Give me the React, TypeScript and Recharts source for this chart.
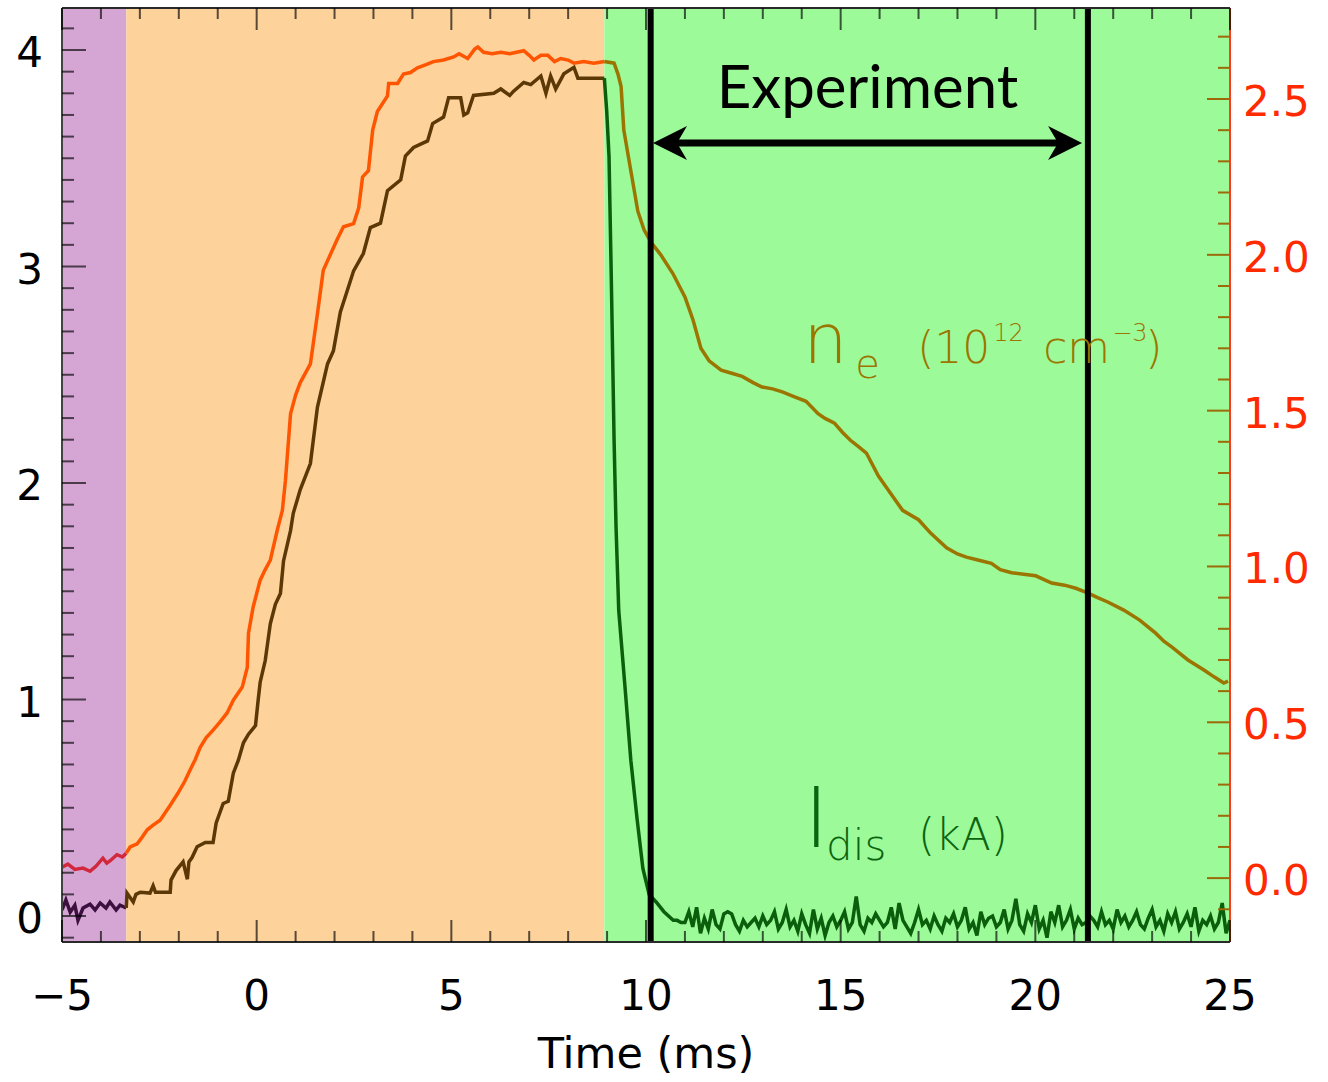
import { LineChart, Line, XAxis, YAxis, ReferenceArea, ReferenceLine, ReferenceDot } from "recharts"

type Pt = [number, number]

// electron density, 1e12 cm^-3 (right axis)
const neSamples: Pt[] = [
  [-5.0, 0.035], [-4.85, 0.045], [-4.67, 0.028], [-4.46, 0.032], [-4.28, 0.022], [-4.13, 0.038],
  [-3.95, 0.064], [-3.85, 0.048], [-3.77, 0.055], [-3.59, 0.075], [-3.45, 0.068], [-3.35, 0.08],
  [-3.25, 0.1], [-3.07, 0.11], [-2.95, 0.13], [-2.81, 0.155], [-2.66, 0.17], [-2.48, 0.186],
  [-2.35, 0.21], [-2.22, 0.234], [-2.02, 0.273], [-1.85, 0.31], [-1.71, 0.347], [-1.58, 0.38],
  [-1.45, 0.42], [-1.3, 0.45], [-1.12, 0.475], [-0.95, 0.5], [-0.76, 0.53], [-0.6, 0.571],
  [-0.37, 0.613], [-0.24, 0.677], [-0.21, 0.786], [-0.09, 0.87], [0.09, 0.956], [0.22, 0.99],
  [0.35, 1.02], [0.53, 1.117], [0.66, 1.18], [0.74, 1.277], [0.87, 1.49], [1.0, 1.55],
  [1.12, 1.59], [1.38, 1.65], [1.56, 1.81], [1.71, 1.95], [1.89, 2.0], [2.07, 2.05],
  [2.23, 2.09], [2.49, 2.1], [2.62, 2.15], [2.72, 2.25], [2.87, 2.27], [2.98, 2.4],
  [3.1, 2.46], [3.36, 2.51], [3.39, 2.55], [3.62, 2.55], [3.77, 2.58], [3.95, 2.585],
  [4.13, 2.6], [4.35, 2.61], [4.54, 2.62], [4.8, 2.625], [5.06, 2.635], [5.2, 2.645],
  [5.42, 2.63], [5.6, 2.66], [5.68, 2.667], [5.83, 2.65], [6.05, 2.645], [6.27, 2.65],
  [6.5, 2.645], [6.86, 2.655], [7.0, 2.64], [7.12, 2.625], [7.3, 2.64], [7.48, 2.64],
  [7.65, 2.62], [7.81, 2.63], [8.0, 2.625], [8.15, 2.615], [8.4, 2.62], [8.66, 2.615],
  [8.93, 2.62], [9.18, 2.615], [9.28, 2.58], [9.36, 2.54], [9.43, 2.4], [9.61, 2.27],
  [9.79, 2.14], [9.95, 2.08], [10.13, 2.04], [10.38, 2.0], [10.69, 1.94], [11.0, 1.865],
  [11.21, 1.79], [11.41, 1.7], [11.62, 1.66], [11.93, 1.63], [12.2, 1.62], [12.47, 1.61],
  [12.75, 1.59], [12.98, 1.576], [13.25, 1.57], [13.5, 1.56], [13.8, 1.545], [14.11, 1.53],
  [14.42, 1.49], [14.6, 1.475], [14.84, 1.46], [15.05, 1.43], [15.25, 1.405], [15.45, 1.385],
  [15.66, 1.364], [15.97, 1.29], [16.28, 1.235], [16.59, 1.18], [17.0, 1.15], [17.31, 1.107],
  [17.72, 1.06], [18.0, 1.04], [18.23, 1.03], [18.55, 1.02], [18.87, 1.01], [19.1, 0.99],
  [19.39, 0.98], [19.7, 0.975], [20.01, 0.97], [20.42, 0.947], [20.75, 0.94], [21.04, 0.93],
  [21.34, 0.915], [21.6, 0.9], [21.86, 0.886], [22.27, 0.86], [22.68, 0.828], [23.09, 0.786],
  [23.3, 0.76], [23.51, 0.741], [23.92, 0.7], [24.33, 0.668], [24.6, 0.645], [24.84, 0.626],
  [24.95, 0.632],
]

// discharge current, kA (left axis)
const idisSamples: Pt[] = [
  [-5.0, 0.028], [-4.9, 0.074], [-4.79, 0.018], [-4.67, 0.05], [-4.59, -0.02], [-4.46, 0.037],
  [-4.28, 0.055], [-4.15, 0.028], [-4.02, 0.06], [-3.87, 0.037], [-3.77, 0.065], [-3.61, 0.028],
  [-3.51, 0.05], [-3.35, 0.037], [-3.33, 0.106], [-3.17, 0.065], [-3.1, 0.1], [-2.99, 0.11],
  [-2.74, 0.106], [-2.66, 0.14], [-2.6, 0.11], [-2.4, 0.11], [-2.22, 0.11], [-2.2, 0.166],
  [-2.07, 0.21], [-1.89, 0.25], [-1.78, 0.17], [-1.74, 0.25], [-1.66, 0.27], [-1.53, 0.32],
  [-1.32, 0.34], [-1.12, 0.34], [-1.04, 0.43], [-0.86, 0.52], [-0.73, 0.53], [-0.6, 0.66],
  [-0.47, 0.72], [-0.34, 0.8], [-0.21, 0.84], [-0.03, 0.88], [0.04, 1.0], [0.09, 1.08],
  [0.22, 1.18], [0.35, 1.35], [0.48, 1.44], [0.61, 1.49], [0.69, 1.64], [0.87, 1.78],
  [0.94, 1.86], [1.12, 1.97], [1.38, 2.09], [1.56, 2.35], [1.82, 2.55], [1.97, 2.61],
  [2.15, 2.79], [2.33, 2.89], [2.49, 2.98], [2.74, 3.06], [2.92, 3.18], [3.18, 3.2],
  [3.36, 3.35], [3.7, 3.4], [3.82, 3.51], [4.03, 3.55], [4.39, 3.58], [4.52, 3.66],
  [4.8, 3.69], [4.93, 3.78], [5.24, 3.78], [5.32, 3.7], [5.42, 3.71], [5.57, 3.79],
  [6.09, 3.8], [6.27, 3.82], [6.5, 3.79], [6.6, 3.81], [6.86, 3.85], [7.04, 3.84],
  [7.3, 3.88], [7.43, 3.8], [7.55, 3.88], [7.68, 3.82], [7.89, 3.89], [8.15, 3.92],
  [8.25, 3.87], [8.58, 3.87], [8.93, 3.87], [8.99, 3.72], [9.05, 3.51], [9.1, 3.03],
  [9.12, 2.83], [9.18, 2.2], [9.23, 1.8], [9.3, 1.41], [9.46, 1.06], [9.61, 0.72],
  [9.77, 0.45], [9.92, 0.22], [10.08, 0.1], [10.26, 0.065], [10.46, 0.02], [10.7, -0.02],
  [10.8, -0.02], [10.9, -0.03], [11.0, -0.03], [11.1, 0.02], [11.2, -0.05], [11.3, 0.04],
  [11.4, -0.08], [11.5, -0.01], [11.6, -0.06], [11.7, 0.03], [11.8, -0.04], [11.9, -0.06],
  [12.0, 0.01], [12.1, 0.02], [12.2, 0.01], [12.3, -0.04], [12.4, -0.07], [12.5, -0.02],
  [12.6, -0.05], [12.7, -0.03], [12.8, -0.01], [12.9, -0.05], [13.0, 0.0], [13.1, -0.04],
  [13.2, -0.02], [13.3, 0.02], [13.4, -0.06], [13.5, -0.03], [13.6, 0.03], [13.7, -0.05],
  [13.8, -0.02], [13.9, -0.07], [14.0, 0.01], [14.1, -0.04], [14.2, -0.08], [14.3, 0.03],
  [14.4, -0.06], [14.5, -0.01], [14.6, -0.09], [14.7, -0.03], [14.8, 0.0], [14.9, -0.05],
  [15.0, -0.02], [15.1, 0.02], [15.2, -0.06], [15.3, -0.03], [15.4, 0.09], [15.5, -0.04],
  [15.6, -0.07], [15.7, -0.01], [15.8, -0.03], [15.9, 0.01], [16.0, -0.02], [16.1, -0.05],
  [16.2, -0.03], [16.3, 0.04], [16.4, -0.06], [16.5, 0.06], [16.6, -0.02], [16.7, -0.05],
  [16.8, -0.08], [16.9, -0.03], [17.0, 0.03], [17.1, -0.04], [17.2, -0.02], [17.3, -0.06],
  [17.4, 0.0], [17.5, -0.04], [17.6, -0.07], [17.7, -0.01], [17.8, -0.03], [17.9, 0.01],
  [18.0, -0.05], [18.1, -0.02], [18.2, 0.04], [18.3, -0.06], [18.4, -0.03], [18.5, -0.09],
  [18.6, 0.02], [18.7, -0.04], [18.8, -0.01], [18.9, 0.0], [19.0, -0.05], [19.1, -0.03],
  [19.2, 0.03], [19.3, -0.06], [19.4, -0.02], [19.5, 0.08], [19.6, -0.04], [19.7, -0.07],
  [19.8, 0.01], [19.9, -0.03], [20.0, 0.05], [20.1, -0.06], [20.2, -0.02], [20.3, -0.1],
  [20.4, 0.02], [20.5, -0.03], [20.6, 0.05], [20.7, -0.05], [20.8, -0.02], [20.9, 0.03],
  [21.0, -0.06], [21.1, -0.01], [21.2, -0.04], [21.3, -0.03], [21.4, 0.0], [21.5, -0.02],
  [21.6, -0.05], [21.7, 0.02], [21.8, -0.04], [21.9, -0.02], [22.0, -0.06], [22.1, 0.03],
  [22.2, -0.03], [22.3, 0.0], [22.4, -0.05], [22.5, -0.02], [22.6, 0.02], [22.7, -0.04],
  [22.8, -0.06], [22.9, -0.01], [23.0, 0.03], [23.1, -0.05], [23.2, -0.02], [23.3, -0.07],
  [23.4, 0.01], [23.5, -0.03], [23.6, 0.02], [23.7, -0.06], [23.8, -0.03], [23.9, 0.01],
  [24.0, -0.05], [24.1, 0.04], [24.2, -0.07], [24.3, -0.02], [24.4, -0.04], [24.5, 0.0],
  [24.6, -0.06], [24.7, -0.03], [24.8, 0.06], [24.9, -0.08], [25.0, -0.02],
]

// phase boundaries (ms): pre-fill, ramp, decay
const regionEdges = [-5, -3.35, 8.93, 25]
const experimentWindow = [10.12, 21.35]
const arrowEnds = [10.18, 21.2]
const arrowLevel = 3.57

const timeMajor = [-5, 0, 5, 10, 15, 20, 25]
const kaMajor = [0, 1, 2, 3, 4]
const neMajor = [0, 0.5, 1, 1.5, 2, 2.5]

const range = (a: number, b: number, step: number) => {
  const out: number[] = []
  for (let v = a; v <= b + 1e-9; v += step) out.push(Math.round(v * 1000) / 1000)
  return out
}
const timeTicks = range(-5, 25, 1)
const kaTicks = range(-0.1, 4.1, 0.1)
const neTicks = range(-0.1, 2.7, 0.1)

const regionFill = ["#d5a6d4", "#fdd29b", "#9cfa99"]
const neStroke = ["#d2283e", "#ff5500", "#9c7400"]
const idisStroke = ["#3b0f3f", "#5c3807", "#0b5e0b"]

const FONT = "DejaVu Sans"
const MAJOR = 22
const MINOR = 11

const isIn = (v: number, list: number[]) => list.some((m) => Math.abs(m - v) < 1e-6)

const segment = (pts: Pt[], i: number) =>
  pts
    .filter(([t]) => t >= regionEdges[i] - 1e-9 && t <= regionEdges[i + 1] + 1e-9)
    .map(([t, v]) => ({ t, v }))

const fmtTime = (v: number) => (v < 0 ? `\u2212${Math.abs(v)}` : `${v}`)

function BottomTick({ x, y, payload }: any) {
  const major = isIn(payload.value, timeMajor)
  return (
    <g>
      <line x1={x} x2={x} y1={y} y2={y - (major ? MAJOR : MINOR)} stroke="#000" strokeOpacity={0.65} strokeWidth={2} />
      {major && (
        <text x={x} y={y + 68} textAnchor="middle" fontSize={42} fontFamily={FONT} fill="#000">
          {fmtTime(payload.value)}
        </text>
      )}
    </g>
  )
}

function TopTick({ x, y, payload }: any) {
  const major = isIn(payload.value, timeMajor)
  return <line x1={x} x2={x} y1={y} y2={y + (major ? MAJOR : MINOR)} stroke="#000" strokeOpacity={0.65} strokeWidth={2} />
}

function LeftTick({ x, y, payload }: any) {
  const major = isIn(payload.value, kaMajor)
  return (
    <g>
      <line x1={x} x2={x + (major ? MAJOR + 2 : MINOR + 1)} y1={y} y2={y} stroke="#000" strokeOpacity={0.65} strokeWidth={2} />
      {major && (
        <text x={x - 19} y={y + 17} textAnchor="end" fontSize={42} fontFamily={FONT} fill="#000">
          {payload.value}
        </text>
      )}
    </g>
  )
}

function RightTick({ x, y, payload }: any) {
  const major = isIn(payload.value, neMajor)
  return (
    <g>
      <line x1={x} x2={x - (major ? MAJOR + 1 : MINOR + 1)} y1={y} y2={y} stroke="#9c6a08" strokeWidth={2} />
      {major && (
        <text x={x + 13} y={y + 17} textAnchor="start" fontSize={42} fontFamily={FONT} fill="#ff2a00">
          {payload.value.toFixed(1)}
        </text>
      )}
    </g>
  )
}

function ExperimentArrow({ x1, y1, x2 }: any) {
  const y = y1
  const head = (tip: number, dir: number) =>
    `${tip},${y} ${tip + dir * 34},${y - 17} ${tip + dir * 24},${y} ${tip + dir * 34},${y + 17}`
  return (
    <g>
      <line x1={x1 + 20} x2={x2 - 20} y1={y} y2={y} stroke="#000" strokeWidth={7} />
      <polygon points={head(x1, 1)} fill="#000" />
      <polygon points={head(x2, -1)} fill="#000" />
      <text x={(x1 + x2) / 2} y={y - 35} textAnchor="middle" fontSize={60} fontFamily="Lato" fill="#000">
        Experiment
      </text>
    </g>
  )
}

function NeLabel({ cx, cy }: any) {
  const c = "#9c7400"
  return (
    <text fontFamily={FONT} fill={c} fontWeight={200}>
      <tspan x={cx - 4} y={cy} fontSize={70}>n</tspan>
      <tspan x={cx + 48} y={cy + 15} fontSize={40}>e</tspan>
      <tspan x={cx + 110} y={cy} fontSize={44}>(10</tspan>
      <tspan x={cx + 186} y={cy - 22} fontSize={24}>12</tspan>
      <tspan x={cx + 236} y={cy} fontSize={44}>cm</tspan>
      <tspan x={cx + 305} y={cy - 22} fontSize={24}>{"\u22123"}</tspan>
      <tspan x={cx + 338} y={cy} fontSize={44}>)</tspan>
    </text>
  )
}

function IdisLabel({ cx, cy }: any) {
  const c = "#0b6410"
  return (
    <text fontFamily={FONT} fill={c} fontWeight={200}>
      <tspan x={cx} y={cy} fontSize={84}>I</tspan>
      <tspan x={cx + 22} y={cy + 13} fontSize={42}>dis</tspan>
      <tspan x={cx + 114} y={cy + 3} fontSize={44}>(kA)</tspan>
    </text>
  )
}

export default function App() {
  return (
    <div style={{ position: "absolute", left: 0, top: 0, width: 1328, height: 1082, background: "#fff" }}>
      <LineChart width={1328} height={1082} margin={{ top: 0, right: 0, bottom: 0, left: 0 }}>
        <XAxis
          xAxisId="bottom"
          dataKey="t"
          type="number"
          domain={[-5, 25]}
          ticks={timeTicks}
          interval={0}
          allowDataOverflow
          height={140}
          tickSize={0}
          tickMargin={0}
          tickLine={false}
          axisLine={{ stroke: "#2a2a2a", strokeWidth: 2 }}
          tick={(p: any) => <BottomTick {...p} />}
          label={{ value: "Time (ms)", position: "insideBottom", offset: 14, fontSize: 43, fontFamily: FONT, fill: "#000" }}
        />
        <XAxis
          xAxisId="top"
          orientation="top"
          dataKey="t"
          type="number"
          domain={[-5, 25]}
          ticks={timeTicks}
          interval={0}
          allowDataOverflow
          height={8}
          tickSize={0}
          tickMargin={0}
          tickLine={false}
          axisLine={{ stroke: "#2a2a2a", strokeWidth: 2 }}
          tick={(p: any) => <TopTick {...p} />}
        />
        <YAxis
          yAxisId="ka"
          type="number"
          domain={[-0.12, 4.194]}
          ticks={kaTicks}
          interval={0}
          allowDataOverflow
          width={62}
          tickSize={0}
          tickMargin={0}
          tickLine={false}
          axisLine={{ stroke: "#444", strokeWidth: 2 }}
          tick={(p: any) => <LeftTick {...p} />}
        />
        <YAxis
          yAxisId="ne"
          orientation="right"
          type="number"
          domain={[-0.205, 2.792]}
          ticks={neTicks}
          interval={0}
          allowDataOverflow
          width={98}
          tickSize={0}
          tickMargin={0}
          tickLine={false}
          axisLine={{ stroke: "#ff3b1f", strokeWidth: 2 }}
          tick={(p: any) => <RightTick {...p} />}
        />

        {regionFill.map((fill, i) => (
          <ReferenceArea
            key={`bg${i}`}
            xAxisId="bottom"
            yAxisId="ka"
            x1={regionEdges[i]}
            x2={regionEdges[i + 1]}
            fill={fill}
            fillOpacity={1}
            stroke="none"
          />
        ))}

        {regionFill.map((_, i) => (
          <Line
            key={`ne${i}`}
            xAxisId="bottom"
            yAxisId="ne"
            data={segment(neSamples, i)}
            dataKey="v"
            type="linear"
            stroke={neStroke[i]}
            strokeWidth={3.5}
            dot={false}
            activeDot={false}
            isAnimationActive={false}
          />
        ))}
        {regionFill.map((_, i) => (
          <Line
            key={`id${i}`}
            xAxisId="bottom"
            yAxisId="ka"
            data={segment(idisSamples, i)}
            dataKey="v"
            type="linear"
            stroke={idisStroke[i]}
            strokeWidth={3.5}
            dot={false}
            activeDot={false}
            isAnimationActive={false}
          />
        ))}

        {experimentWindow.map((x) => (
          <ReferenceLine key={`w${x}`} xAxisId="bottom" yAxisId="ka" x={x} stroke="#000" strokeWidth={6} />
        ))}
        <ReferenceLine
          xAxisId="bottom"
          yAxisId="ka"
          segment={[{ x: arrowEnds[0], y: arrowLevel }, { x: arrowEnds[1], y: arrowLevel }]}
          shape={(p: any) => <ExperimentArrow {...p} />}
        />
        <ReferenceDot xAxisId="bottom" yAxisId="ne" x={14.14} y={1.653} r={0} shape={(p: any) => <NeLabel {...p} />} />
        <ReferenceDot xAxisId="bottom" yAxisId="ka" x={14.06} y={0.319} r={0} shape={(p: any) => <IdisLabel {...p} />} />
      </LineChart>
    </div>
  )
}
